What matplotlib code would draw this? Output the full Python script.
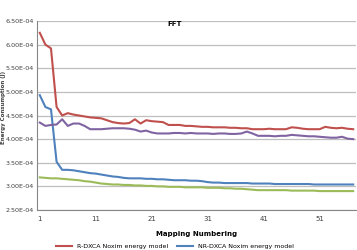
import numpy as np
import matplotlib
matplotlib.use("Agg")
import matplotlib.pyplot as plt

# energy values, units of 1e-4 J, mapping numbers 1..57
red = [6.25, 6.00, 5.92, 4.68, 4.50, 4.55, 4.52, 4.50, 4.48, 4.46,
       4.45, 4.44, 4.40, 4.36, 4.34, 4.33, 4.34, 4.42, 4.33, 4.40,
       4.38, 4.37, 4.36, 4.30, 4.30, 4.30, 4.28, 4.28, 4.27, 4.26,
       4.26, 4.25, 4.25, 4.25, 4.24, 4.24, 4.23, 4.23, 4.21, 4.21,
       4.21, 4.22, 4.21, 4.21, 4.21, 4.25, 4.24, 4.22, 4.21, 4.21,
       4.21, 4.26, 4.24, 4.23, 4.24, 4.22, 4.21]
purple = [4.35, 4.28, 4.30, 4.31, 4.42, 4.28, 4.33, 4.33, 4.28, 4.21,
          4.21, 4.21, 4.22, 4.23, 4.23, 4.23, 4.22, 4.20, 4.16, 4.18,
          4.14, 4.12, 4.12, 4.12, 4.13, 4.13, 4.12, 4.13, 4.12, 4.12,
          4.12, 4.11, 4.12, 4.12, 4.11, 4.11, 4.12, 4.16, 4.12, 4.07,
          4.07, 4.07, 4.06, 4.07, 4.07, 4.09, 4.08, 4.07, 4.06, 4.06,
          4.05, 4.04, 4.03, 4.03, 4.05, 4.01, 4.00]
blue = [4.93, 4.68, 4.63, 3.52, 3.35, 3.35, 3.34, 3.32, 3.30, 3.28,
        3.27, 3.25, 3.23, 3.21, 3.20, 3.18, 3.17, 3.17, 3.17, 3.16,
        3.16, 3.15, 3.15, 3.14, 3.13, 3.13, 3.13, 3.12, 3.12, 3.11,
        3.09, 3.08, 3.08, 3.07, 3.07, 3.07, 3.07, 3.07, 3.06, 3.06,
        3.06, 3.06, 3.05, 3.05, 3.05, 3.05, 3.05, 3.05, 3.05, 3.04,
        3.04, 3.04, 3.04, 3.04, 3.04, 3.04, 3.04]
green = [3.19, 3.18, 3.17, 3.17, 3.16, 3.15, 3.14, 3.13, 3.11, 3.10,
         3.08, 3.06, 3.05, 3.04, 3.04, 3.03, 3.03, 3.02, 3.02, 3.01,
         3.01, 3.00, 3.00, 2.99, 2.99, 2.99, 2.98, 2.98, 2.98, 2.98,
         2.97, 2.97, 2.97, 2.96, 2.96, 2.95, 2.95, 2.94, 2.93, 2.92,
         2.92, 2.92, 2.92, 2.92, 2.92, 2.91, 2.91, 2.91, 2.91, 2.91,
         2.90, 2.90, 2.90, 2.90, 2.90, 2.90, 2.90]
labels = ["R-DXCA Noxim energy model", "NR-DXCA Noxim energy model"]

x_ticks = [1, 11, 21, 31, 41, 51]
y_ticks = [2.5e-4, 3.0e-4, 3.5e-4, 4.0e-4, 4.5e-4, 5.0e-4, 5.5e-4, 6.0e-4, 6.5e-4]
y_labels = ["2.50E-04", "3.00E-04", "3.50E-04", "4.00E-04", "4.50E-04",
            "5.00E-04", "5.50E-04", "6.00E-04", "6.50E-04"]

x = np.arange(1, len(red) + 1)
fig = plt.figure(figsize=(3.57, 2.5), dpi=100)
ax = fig.add_axes([37 / 357, 40 / 250, 319 / 357, 189 / 250])

l_blue, = ax.plot(x, np.array(blue) * 1e-4, color="#4F81BD", lw=1.5)
l_red, = ax.plot(x, np.array(red) * 1e-4, color="#C0504D", lw=1.5)
ax.plot(x, np.array(green) * 1e-4, color="#9BBB59", lw=1.5)
ax.plot(x, np.array(purple) * 1e-4, color="#8064A2", lw=1.5)

ax.set_xlim(0.5, len(red) + 0.5)
ax.set_ylim(y_ticks[0], y_ticks[-1])
ax.set_xticks(x_ticks)
ax.set_yticks(y_ticks)
ax.set_yticklabels(y_labels)
ax.tick_params(axis="y", labelsize=4.6, colors="#404040", length=0, pad=2)
ax.tick_params(axis="x", labelsize=5, colors="#404040", length=0, pad=4)
ax.grid(axis="y", color="#BFBFBF", lw=0.9)
ax.set_axisbelow(True)
for s in ["top", "right"]:
    ax.spines[s].set_visible(False)
for s in ["left", "bottom"]:
    ax.spines[s].set_color("#868686")
    ax.spines[s].set_linewidth(0.8)

fig.text(175 / 357, 1 - 24 / 250, "FFT", fontsize=5, fontweight="bold", ha="center", va="center")
fig.text(197 / 357, 1 - 234 / 250, "Mapping Numbering", fontsize=5, fontweight="bold",
         ha="center", va="center")
fig.text(0.5 / 357, 1 - 107 / 250, "Energy Consumption (J)", fontsize=4, fontweight="bold",
         rotation=90, ha="left", va="center", color="#404040")
fig.legend([l_red, l_blue], labels, loc="center", bbox_to_anchor=(175 / 357, 4 / 250),
           ncol=2, fontsize=4.5, frameon=False, handlelength=2.5, columnspacing=1.5)

fig.savefig("out.png", dpi=100)
